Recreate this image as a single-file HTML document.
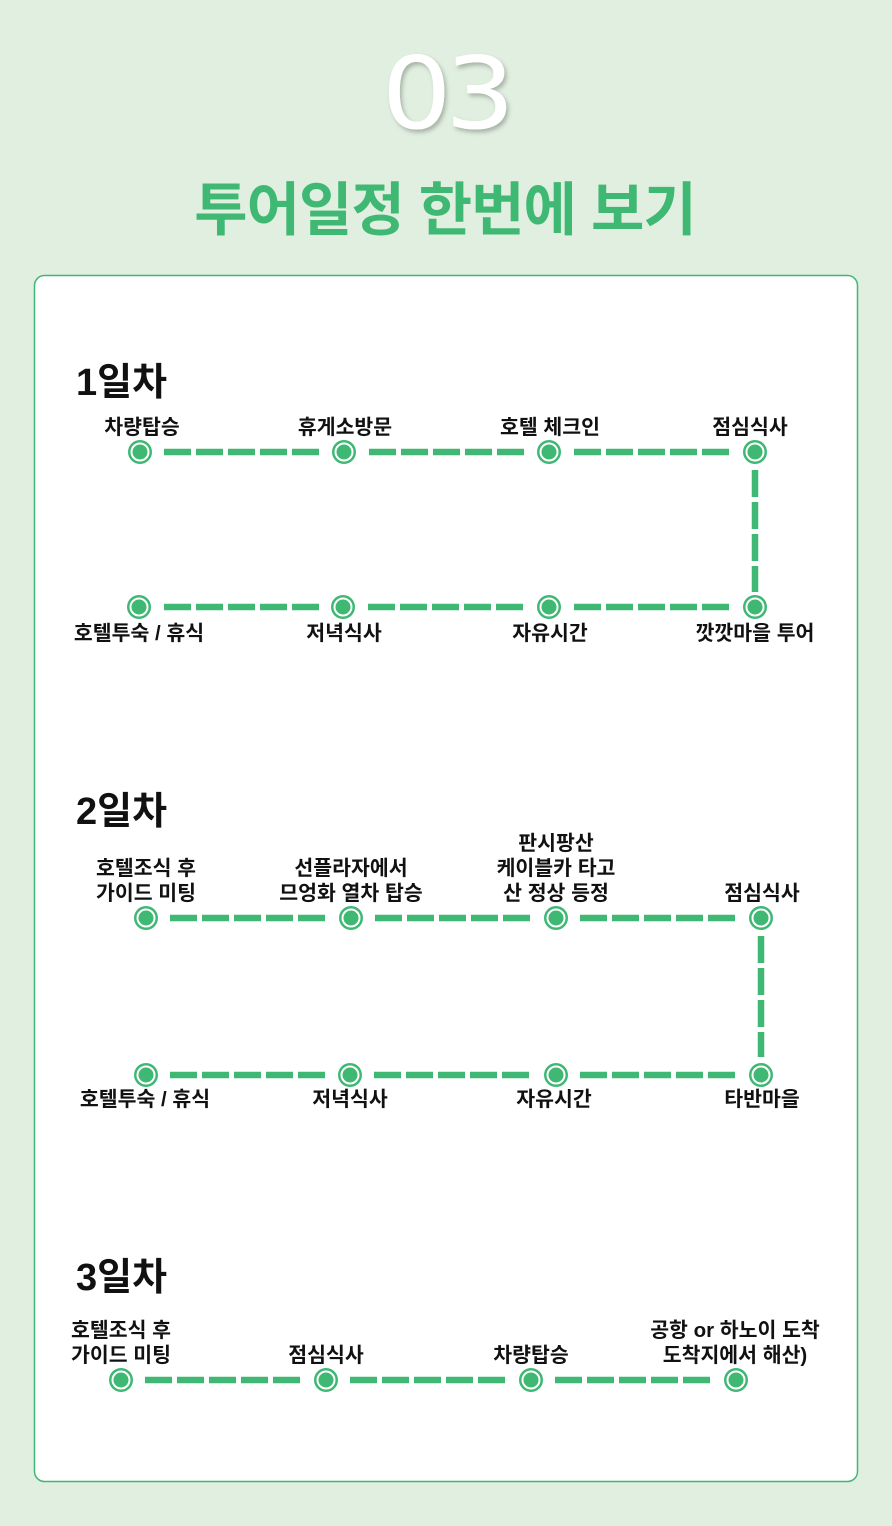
<!DOCTYPE html>
<html><head><meta charset="utf-8"><style>
html,body{margin:0;padding:0;background:#e0efdf;}
svg{display:block}
text{font-family:"Liberation Sans","Noto Sans CJK KR",sans-serif;}
.l{font-size:20.5px;font-weight:bold;fill:#111;text-anchor:middle;}
.h{font-size:38px;font-weight:bold;fill:#111;}
.d{stroke:#3fb874;stroke-width:6.5;stroke-dasharray:27 5;fill:none;}
</style></head><body>
<svg width="892" height="1526" viewBox="0 0 892 1526">
<defs>
<filter id="sh" x="-20%" y="-20%" width="140%" height="140%"><feDropShadow dx="2" dy="3" stdDeviation="2" flood-color="#000" flood-opacity="0.25"/></filter>
<g id="n"><circle r="12" fill="#3fb874"/><circle r="8.5" fill="#3fb874" stroke="#fff" stroke-width="2"/></g>
</defs>
<text x="445" y="128" text-anchor="middle" font-size="100" fill="#fff" filter="url(#sh)" style="font-family:'DejaVu Sans',sans-serif;font-weight:normal;letter-spacing:-6px" transform="translate(445 0) scale(1.1 1) translate(-445 0)">03</text>
<text x="445" y="230" text-anchor="middle" font-size="58" font-weight="bold" fill="#3fb874" style="letter-spacing:-1px">투어일정 한번에 보기</text>
<rect x="34.5" y="275.5" width="823" height="1206" rx="10" fill="#fff" stroke="#3fb874" stroke-width="1.5"/>

<text class="h" x="76" y="395">1일차</text>
<path class="d" d="M164 452H322M369 452H527M574 452H732M755 470V592M164 607H320M368 607H527M574 607H732"/>
<use href="#n" x="140" y="452"/><use href="#n" x="344" y="452"/><use href="#n" x="549" y="452"/><use href="#n" x="755" y="452"/>
<use href="#n" x="139" y="607"/><use href="#n" x="343" y="607"/><use href="#n" x="549" y="607"/><use href="#n" x="755" y="607"/>
<text class="l" x="142" y="434">차량탑승</text><text class="l" x="345" y="434">휴게소방문</text><text class="l" x="550" y="434">호텔 체크인</text><text class="l" x="750" y="434">점심식사</text>
<text class="l" x="139" y="640">호텔투숙 / 휴식</text><text class="l" x="344" y="640">저녁식사</text><text class="l" x="550" y="640">자유시간</text><text class="l" x="755" y="640">깟깟마을 투어</text>

<text class="h" x="76" y="824">2일차</text>
<path class="d" d="M170 918H328M375 918H533M580 918H738M761 936V1057M170 1075H327M374 1075H533M580 1075H738"/>
<use href="#n" x="146" y="918"/><use href="#n" x="351" y="918"/><use href="#n" x="556" y="918"/><use href="#n" x="761" y="918"/>
<use href="#n" x="146" y="1075"/><use href="#n" x="350" y="1075"/><use href="#n" x="556" y="1075"/><use href="#n" x="761" y="1075"/>
<text class="l" x="146" y="875">호텔조식 후</text><text class="l" x="146" y="900">가이드 미팅</text>
<text class="l" x="351" y="875">선플라자에서</text><text class="l" x="351" y="900">므엉화 열차 탑승</text>
<text class="l" x="556" y="850">판시팡산</text><text class="l" x="556" y="875">케이블카 타고</text><text class="l" x="556" y="900">산 정상 등정</text>
<text class="l" x="762" y="900">점심식사</text>
<text class="l" x="145" y="1106">호텔투숙 / 휴식</text><text class="l" x="350" y="1106">저녁식사</text><text class="l" x="554" y="1106">자유시간</text><text class="l" x="762" y="1106">타반마을</text>

<text class="h" x="76" y="1290">3일차</text>
<path class="d" d="M145 1380H303M350 1380H508M555 1380H713"/>
<use href="#n" x="121" y="1380"/><use href="#n" x="326" y="1380"/><use href="#n" x="531" y="1380"/><use href="#n" x="736" y="1380"/>
<text class="l" x="121" y="1337">호텔조식 후</text><text class="l" x="121" y="1362">가이드 미팅</text>
<text class="l" x="326" y="1362">점심식사</text><text class="l" x="531" y="1362">차량탑승</text>
<text class="l" x="735" y="1337">공항 or 하노이 도착</text><text class="l" x="735" y="1362">도착지에서 해산)</text>
</svg>
</body></html>
